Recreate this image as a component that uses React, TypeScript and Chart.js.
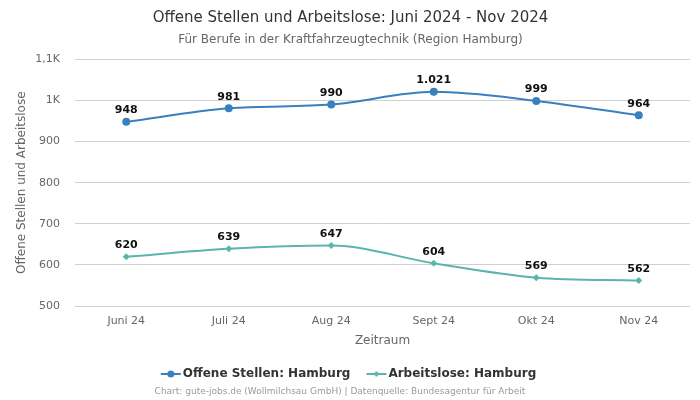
import React, { useEffect, useRef } from "react";
import { Chart, registerables } from "chart.js";

Chart.register(...registerables);

const categories = ["Juni 24", "Juli 24", "Aug 24", "Sept 24", "Okt 24", "Nov 24"];
const offeneStellen = [948, 981, 990, 1021, 999, 964];
const arbeitslose = [620, 639, 647, 604, 569, 562];
const seriesNames = ["Offene Stellen: Hamburg", "Arbeitslose: Hamburg"];
const colors = ["#3a7fbe", "#5bb5ad"];

const FONT = "'DejaVu Sans', sans-serif";

function legendIcon(color: string, diamond: boolean) {
  const c = document.createElement("canvas");
  c.width = 22;
  c.height = 10;
  const ctx = c.getContext("2d")!;
  ctx.strokeStyle = color;
  ctx.lineWidth = 2;
  ctx.beginPath();
  ctx.moveTo(1, 5);
  ctx.lineTo(21, 5);
  ctx.stroke();
  ctx.fillStyle = color;
  ctx.beginPath();
  if (diamond) {
    ctx.moveTo(11, 2);
    ctx.lineTo(14, 5);
    ctx.lineTo(11, 8);
    ctx.lineTo(8, 5);
    ctx.closePath();
  } else {
    ctx.arc(11, 5, 3.5, 0, Math.PI * 2);
  }
  ctx.fill();
  return c;
}

const fmt = (v: number) => v.toLocaleString("de-DE");

const dataLabelPlugin = {
  id: "dataLabels",
  afterDatasetsDraw(chart: any) {
    const ctx = chart.ctx;
    ctx.save();
    ctx.font = `bold 11px ${FONT}`;
    ctx.fillStyle = "#111";
    ctx.textAlign = "center";
    ctx.textBaseline = "bottom";
    chart.data.datasets.forEach((ds: any, i: number) => {
      const meta = chart.getDatasetMeta(i);
      meta.data.forEach((pt: any, j: number) => {
        ctx.fillText(fmt(ds.data[j]), pt.x, pt.y - 6);
      });
    });
    ctx.restore();
  },
};

const footerPlugin = {
  id: "footerText",
  afterDraw(chart: any) {
    const ctx = chart.ctx;
    ctx.save();
    ctx.font = `9px ${FONT}`;
    ctx.fillStyle = "#9a9a9a";
    ctx.textAlign = "center";
    ctx.textBaseline = "middle";
    ctx.fillText(
      "Chart: gute-jobs.de (Wollmilchsau GmbH) | Datenquelle: Bundesagentur für Arbeit",
      340,
      392
    );
    ctx.restore();
  },
};

export default function App() {
  const ref = useRef<HTMLCanvasElement>(null);
  useEffect(() => {
    if (!ref.current) return;
    const chart = new Chart(ref.current, {
      type: "line",
      data: {
        labels: categories,
        datasets: [
          {
            label: seriesNames[0],
            data: offeneStellen,
            borderColor: colors[0],
            backgroundColor: colors[0],
            borderWidth: 2,
            pointRadius: 4,
            pointBorderWidth: 0,
            pointHoverRadius: 4,
            pointStyle: "circle",
            cubicInterpolationMode: "monotone",
          },
          {
            label: seriesNames[1],
            data: arbeitslose,
            borderColor: colors[1],
            backgroundColor: colors[1],
            borderWidth: 2,
            pointRadius: 3.5,
            pointBorderWidth: 0,
            pointHoverRadius: 3.5,
            pointStyle: "rectRot",
            cubicInterpolationMode: "monotone",
          },
        ],
      },
      options: {
        animation: false,
        responsive: false,
        maintainAspectRatio: false,
        layout: { padding: { left: 11, right: 10, top: 0, bottom: 10 } },
        plugins: {
          title: {
            display: true,
            text: "Offene Stellen und Arbeitslose: Juni 2024 - Nov 2024",
            color: "#333",
            font: { family: FONT, size: 15, weight: "normal" },
            padding: { top: 9, bottom: 6 },
          },
          subtitle: {
            display: true,
            text: "Für Berufe in der Kraftfahrzeugtechnik (Region Hamburg)",
            color: "#666",
            font: { family: FONT, size: 12 },
            padding: { bottom: 12 },
          },
          legend: {
            position: "bottom",
            labels: {
              usePointStyle: true,
              color: "#333",
              font: { family: FONT, size: 12, weight: "bold" },
              padding: 20,
              generateLabels: (c: any) =>
                c.data.datasets.map((ds: any, i: number) => ({
                  text: ds.label,
                  pointStyle: legendIcon(colors[i], i === 1),
                  fillStyle: colors[i],
                  strokeStyle: colors[i],
                  lineWidth: 0,
                  datasetIndex: i,
                  fontColor: "#333",
                })),
            },
          },
          tooltip: { enabled: false },
        },
        scales: {
          x: {
            grid: { display: false, drawTicks: false },
            border: { display: false },
            ticks: { color: "#666", font: { family: FONT, size: 11 }, padding: 9 },
            title: {
              display: true,
              text: "Zeitraum",
              color: "#666",
              font: { family: FONT, size: 12 },
              padding: { top: 0, bottom: 0 },
            },
            offset: true,
            afterFit: (s: any) => {
              s.height = 42;
            },
          },
          y: {
            min: 500,
            max: 1100,
            grid: { color: "#d0d0d0", drawTicks: false },
            border: { display: false },
            ticks: {
              stepSize: 100,
              color: "#666",
              padding: 15,
              font: { family: FONT, size: 11 },
              callback: (v: any) => {
                if (v === 1000) return "1K";
                if (v === 1100) return "1,1K";
                return String(v);
              },
            },
            title: {
              display: true,
              text: "Offene Stellen und Arbeitslose",
              color: "#666",
              font: { family: FONT, size: 12 },
            },
            afterFit: (s: any) => {
              s.width = 64;
            },
          },
        },
      },
      plugins: [dataLabelPlugin, footerPlugin],
    } as any);
    return () => chart.destroy();
  }, []);
  return (
    <div style={{ position: "absolute", left: 0, top: 0, width: 700, height: 400, background: "#fff" }}>
      <canvas ref={ref} width={700} height={400} style={{ width: 700, height: 400 }} />
    </div>
  );
}
